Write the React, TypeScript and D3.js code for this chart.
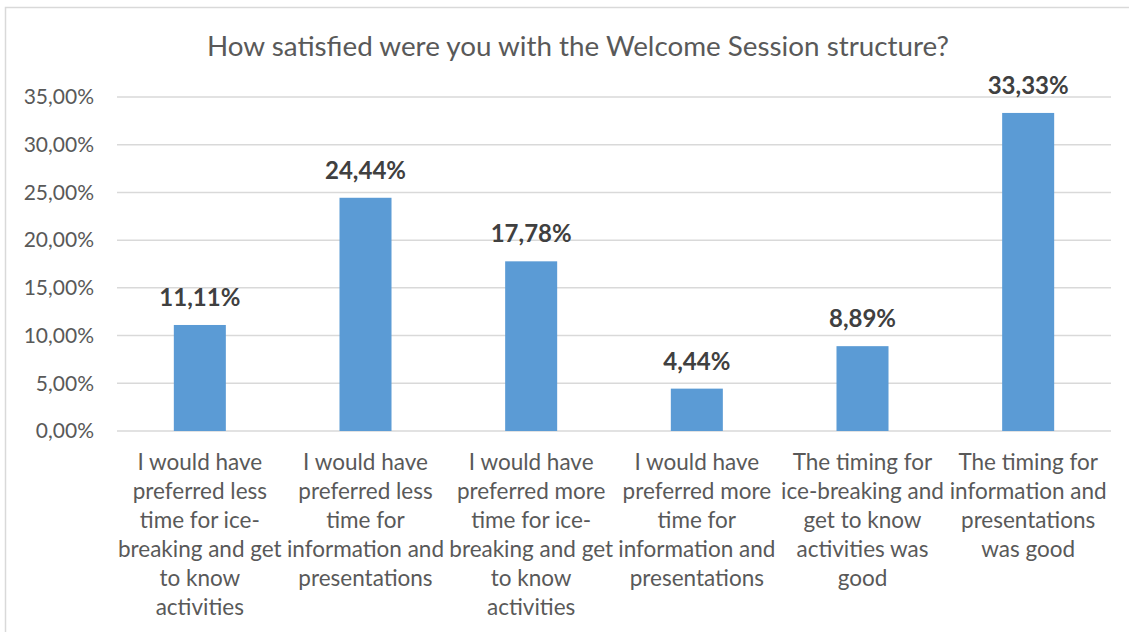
import React from "react";
import * as d3 from "d3";

const title = "How satisfied were you with the Welcome Session structure?";
const categories = [
  "I would have preferred less time for ice-breaking and get to know activities",
  "I would have preferred less time for information and presentations",
  "I would have preferred more time for ice-breaking and get to know activities",
  "I would have preferred more time for information and presentations",
  "The timing for ice-breaking and get to know activities was good",
  "The timing for information and presentations was good",
];
const categoryLines = [
  ["I would have", "preferred less", "time for ice-", "breaking and get", "to know", "activities"],
  ["I would have", "preferred less", "time for", "information and", "presentations"],
  ["I would have", "preferred more", "time for ice-", "breaking and get", "to know", "activities"],
  ["I would have", "preferred more", "time for", "information and", "presentations"],
  ["The timing for", "ice-breaking and", "get to know", "activities was", "good"],
  ["The timing for", "information and", "presentations", "was good"],
];
const values = [0.1111, 0.2444, 0.1778, 0.0444, 0.0889, 0.3333];
const yTicks = [0, 0.05, 0.1, 0.15, 0.2, 0.25, 0.3, 0.35];

const locale = d3.formatLocale({ decimal: ",", thousands: ".", grouping: [3], currency: ["", "€"] });
const fmt = locale.format(".2%");

const FONT = "Lato, 'Open Sans', sans-serif";
const TEXT = "#595959";
const GRID = "#D9D9D9";
const BAR = "#5B9BD5";

export default function App() {
  const W = 1129, H = 632;
  const left = 117, right = 1111, top = 97, bottom = 431;
  const x = d3.scaleBand<string>().domain(categories).range([left, right]).paddingInner(0.686).paddingOuter(0.343);
  const y = d3.scaleLinear().domain([0, 0.35]).range([bottom, top]);

  return (
    <svg width={W} height={H} style={{ position: "absolute", left: 0, top: 0, display: "block", background: "#fff" }}>
      <rect x={5.5} y={7.5} width={1140} height={650} fill="#fff" stroke={GRID} strokeWidth={1.5} />
      <text x={578} y={56} textAnchor="middle" fontFamily={FONT} fontSize={27.8} fill={TEXT}>{title}</text>
      {yTicks.map((t) => (
        <g key={t}>
          <line x1={left} x2={right} y1={y(t)} y2={y(t)} stroke={GRID} strokeWidth={1.5} />
          <text x={94} y={y(t)} dy="0.35em" textAnchor="end" fontFamily={FONT} fontSize={21} fill={TEXT}>{fmt(t)}</text>
        </g>
      ))}
      {categories.map((c, i) => (
        <rect key={c} x={x(c)} y={y(values[i])} width={x.bandwidth()} height={bottom - y(values[i])} fill={BAR} />
      ))}
      {categories.map((c, i) => (
        <text key={"l" + c} x={(x(c) as number) + x.bandwidth() / 2} y={y(values[i]) - 19} textAnchor="middle"
          fontFamily={FONT} fontSize={24} fontWeight="bold" fill="#404040">{fmt(values[i])}</text>
      ))}
      {categories.map((c, i) => (
        <text key={"c" + c} textAnchor="middle" fontFamily={FONT} fontSize={22.5} fill={TEXT}>
          {categoryLines[i].map((ln, j) => (
            <tspan key={j} x={(x(c) as number) + x.bandwidth() / 2} y={470 + j * 29}>{ln}</tspan>
          ))}
        </text>
      ))}
    </svg>
  );
}
